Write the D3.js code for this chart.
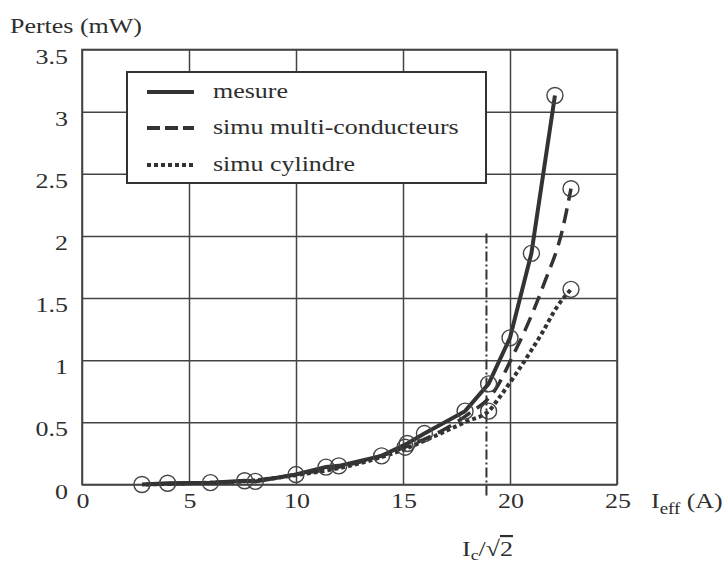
<!DOCTYPE html>
<html>
<head>
<meta charset="utf-8">
<script src="https://cdn.jsdelivr.net/npm/d3@7"></script>
<style>
  body { margin: 0; background: #fff; }
  svg { display: block; }
  text { font-family: 'Liberation Serif', 'Times New Roman', Times, serif; fill: #2e2e2e; }
</style>
</head>
<body>
<svg id="chart" width="726" height="566"></svg>
<script>
// values (I_eff in A, losses in mW)
const mesure = [
  [2.8, 0.0], [4.0, 0.01], [6.0, 0.015], [7.6, 0.03], [8.1, 0.025],
  [10.0, 0.08], [11.4, 0.14], [12.0, 0.15], [14.0, 0.23], [15.2, 0.33],
  [16.0, 0.41], [17.9, 0.59], [19.0, 0.81], [20.0, 1.18], [21.0, 1.86],
  [22.1, 3.13]
];
const mesureMarks = mesure;

const simuMulti = [
  [3.0, 0.0], [5.0, 0.01], [7.5, 0.025], [10.0, 0.08], [12.5, 0.16],
  [15.1, 0.3], [17.0, 0.45], [18.0, 0.56], [19.3, 0.76], [20.2, 1.06],
  [20.7, 1.24], [21.6, 1.62], [22.45, 2.05], [22.85, 2.38]
];
const simuMultiMarks = [[15.1, 0.3], [22.85, 2.38]];

const simuCyl = [
  [3.0, 0.0], [5.0, 0.01], [7.5, 0.025], [10.0, 0.075], [12.5, 0.15],
  [15.0, 0.28], [17.0, 0.43], [18.0, 0.51], [19.0, 0.59], [19.5, 0.70],
  [20.2, 0.87], [21.0, 1.08], [21.5, 1.22], [22.2, 1.43], [22.85, 1.57]
];
const simuCylMarks = [[19.0, 0.59], [22.85, 1.57]];

const xTicks = [0, 5, 10, 15, 20, 25];
const yTicks = [0, 0.5, 1, 1.5, 2, 2.5, 3, 3.5];
const legendItems = ['mesure', 'simu multi-conducteurs', 'simu cylindre'];
const icOverSqrt2 = 18.9;

const ink = '#333';
const stretch = 1.18; // the scanned text is wider than plain Times

const svg = d3.select('#chart');

const x = d3.scaleLinear().domain([0, 25]).range([82, 617]);
const y = d3.scaleLinear().domain([0, 3.5]).range([484.5, 49.5]);

function label(sel, px, py, str, anchor, size) {
  return sel
    .append('text')
    .attr('transform', `translate(${px},${py}) scale(${stretch},1)`)
    .attr('text-anchor', anchor || 'start')
    .style('font-size', (size || 22) + 'px')
    .text(str);
}

// grid
svg
  .append('g')
  .attr('transform', `translate(0,${y(0)})`)
  .call(d3.axisBottom(x).tickValues(xTicks).tickSize(-(y(0) - y(3.5))).tickFormat(''))
  .call(g => g.select('.domain').remove())
  .selectAll('line')
  .attr('stroke', '#444')
  .attr('stroke-width', 1.5);

svg
  .append('g')
  .attr('transform', `translate(${x(0)},0)`)
  .call(d3.axisLeft(y).tickValues(yTicks).tickSize(-(x(25) - x(0))).tickFormat(''))
  .call(g => g.select('.domain').remove())
  .selectAll('line')
  .attr('stroke', '#444')
  .attr('stroke-width', 1.5);

svg
  .append('rect')
  .attr('x', x(0))
  .attr('y', y(3.5))
  .attr('width', x(25) - x(0))
  .attr('height', y(0) - y(3.5))
  .attr('fill', 'none')
  .attr('stroke', '#444')
  .attr('stroke-width', 1.6);

// tick labels
yTicks.forEach(t => label(svg, 68, y(t) + 14, String(t), 'end'));
xTicks.forEach(t => label(svg, x(t) + 1, 508, String(t), 'middle'));

// axis titles
label(svg, 10, 33, 'Pertes (mW)', 'start');
const xt = label(svg, 651, 508, 'I', 'start');
xt.append('tspan').attr('dy', 6).style('font-size', '16px').text('eff');
xt.append('tspan').attr('dy', -6).text(' (A)');

// Ic / sqrt(2) marker
svg
  .append('line')
  .attr('x1', x(icOverSqrt2))
  .attr('x2', x(icOverSqrt2))
  .attr('y1', y(2.02))
  .attr('y2', 498)
  .attr('stroke', ink)
  .attr('stroke-width', 2)
  .attr('stroke-dasharray', '10,3,2,3');

const ic = label(svg, 462, 556, 'I', 'start');
ic.append('tspan').attr('dy', 4).style('font-size', '15px').text('c');
ic.append('tspan').attr('dy', -4).text('/√');
ic.append('tspan').style('text-decoration', 'overline').text('2');

// legend
svg
  .append('rect')
  .attr('x', 127)
  .attr('y', 72)
  .attr('width', 359)
  .attr('height', 111)
  .attr('fill', '#fff')
  .attr('stroke', ink)
  .attr('stroke-width', 2);

const styles = [
  { dash: null, width: 4 },
  { dash: '13,5', width: 4 },
  { dash: '4,3', width: 4 }
];
const rowY = [92, 128, 165];

legendItems.forEach((name, i) => {
  svg
    .append('line')
    .attr('x1', 147)
    .attr('x2', 194)
    .attr('y1', rowY[i])
    .attr('y2', rowY[i])
    .attr('stroke', ink)
    .attr('stroke-width', styles[i].width)
    .attr('stroke-dasharray', styles[i].dash);
  label(svg, 213, rowY[i] + 6, name, 'start');
});

// curves
const line = d3
  .line()
  .x(d => x(d[0]))
  .y(d => y(d[1]));

const smooth = d3
  .line()
  .curve(d3.curveMonotoneX)
  .x(d => x(d[0]))
  .y(d => y(d[1]));

svg
  .append('path')
  .datum(simuCyl)
  .attr('fill', 'none')
  .attr('stroke', ink)
  .attr('stroke-width', 4)
  .attr('stroke-dasharray', '4,3')
  .attr('d', smooth);

svg
  .append('path')
  .datum(simuMulti)
  .attr('fill', 'none')
  .attr('stroke', ink)
  .attr('stroke-width', 3.5)
  .attr('stroke-dasharray', '15,8')
  .attr('d', smooth);

svg
  .append('path')
  .datum(mesure)
  .attr('fill', 'none')
  .attr('stroke', ink)
  .attr('stroke-width', 4)
  .attr('d', line);

svg
  .selectAll('.mark')
  .data(mesureMarks.concat(simuMultiMarks, simuCylMarks))
  .join('circle')
  .attr('class', 'mark')
  .attr('cx', d => x(d[0]))
  .attr('cy', d => y(d[1]))
  .attr('r', 8)
  .attr('fill', 'none')
  .attr('stroke', '#444')
  .attr('stroke-width', 1.4);
</script>
</body>
</html>
